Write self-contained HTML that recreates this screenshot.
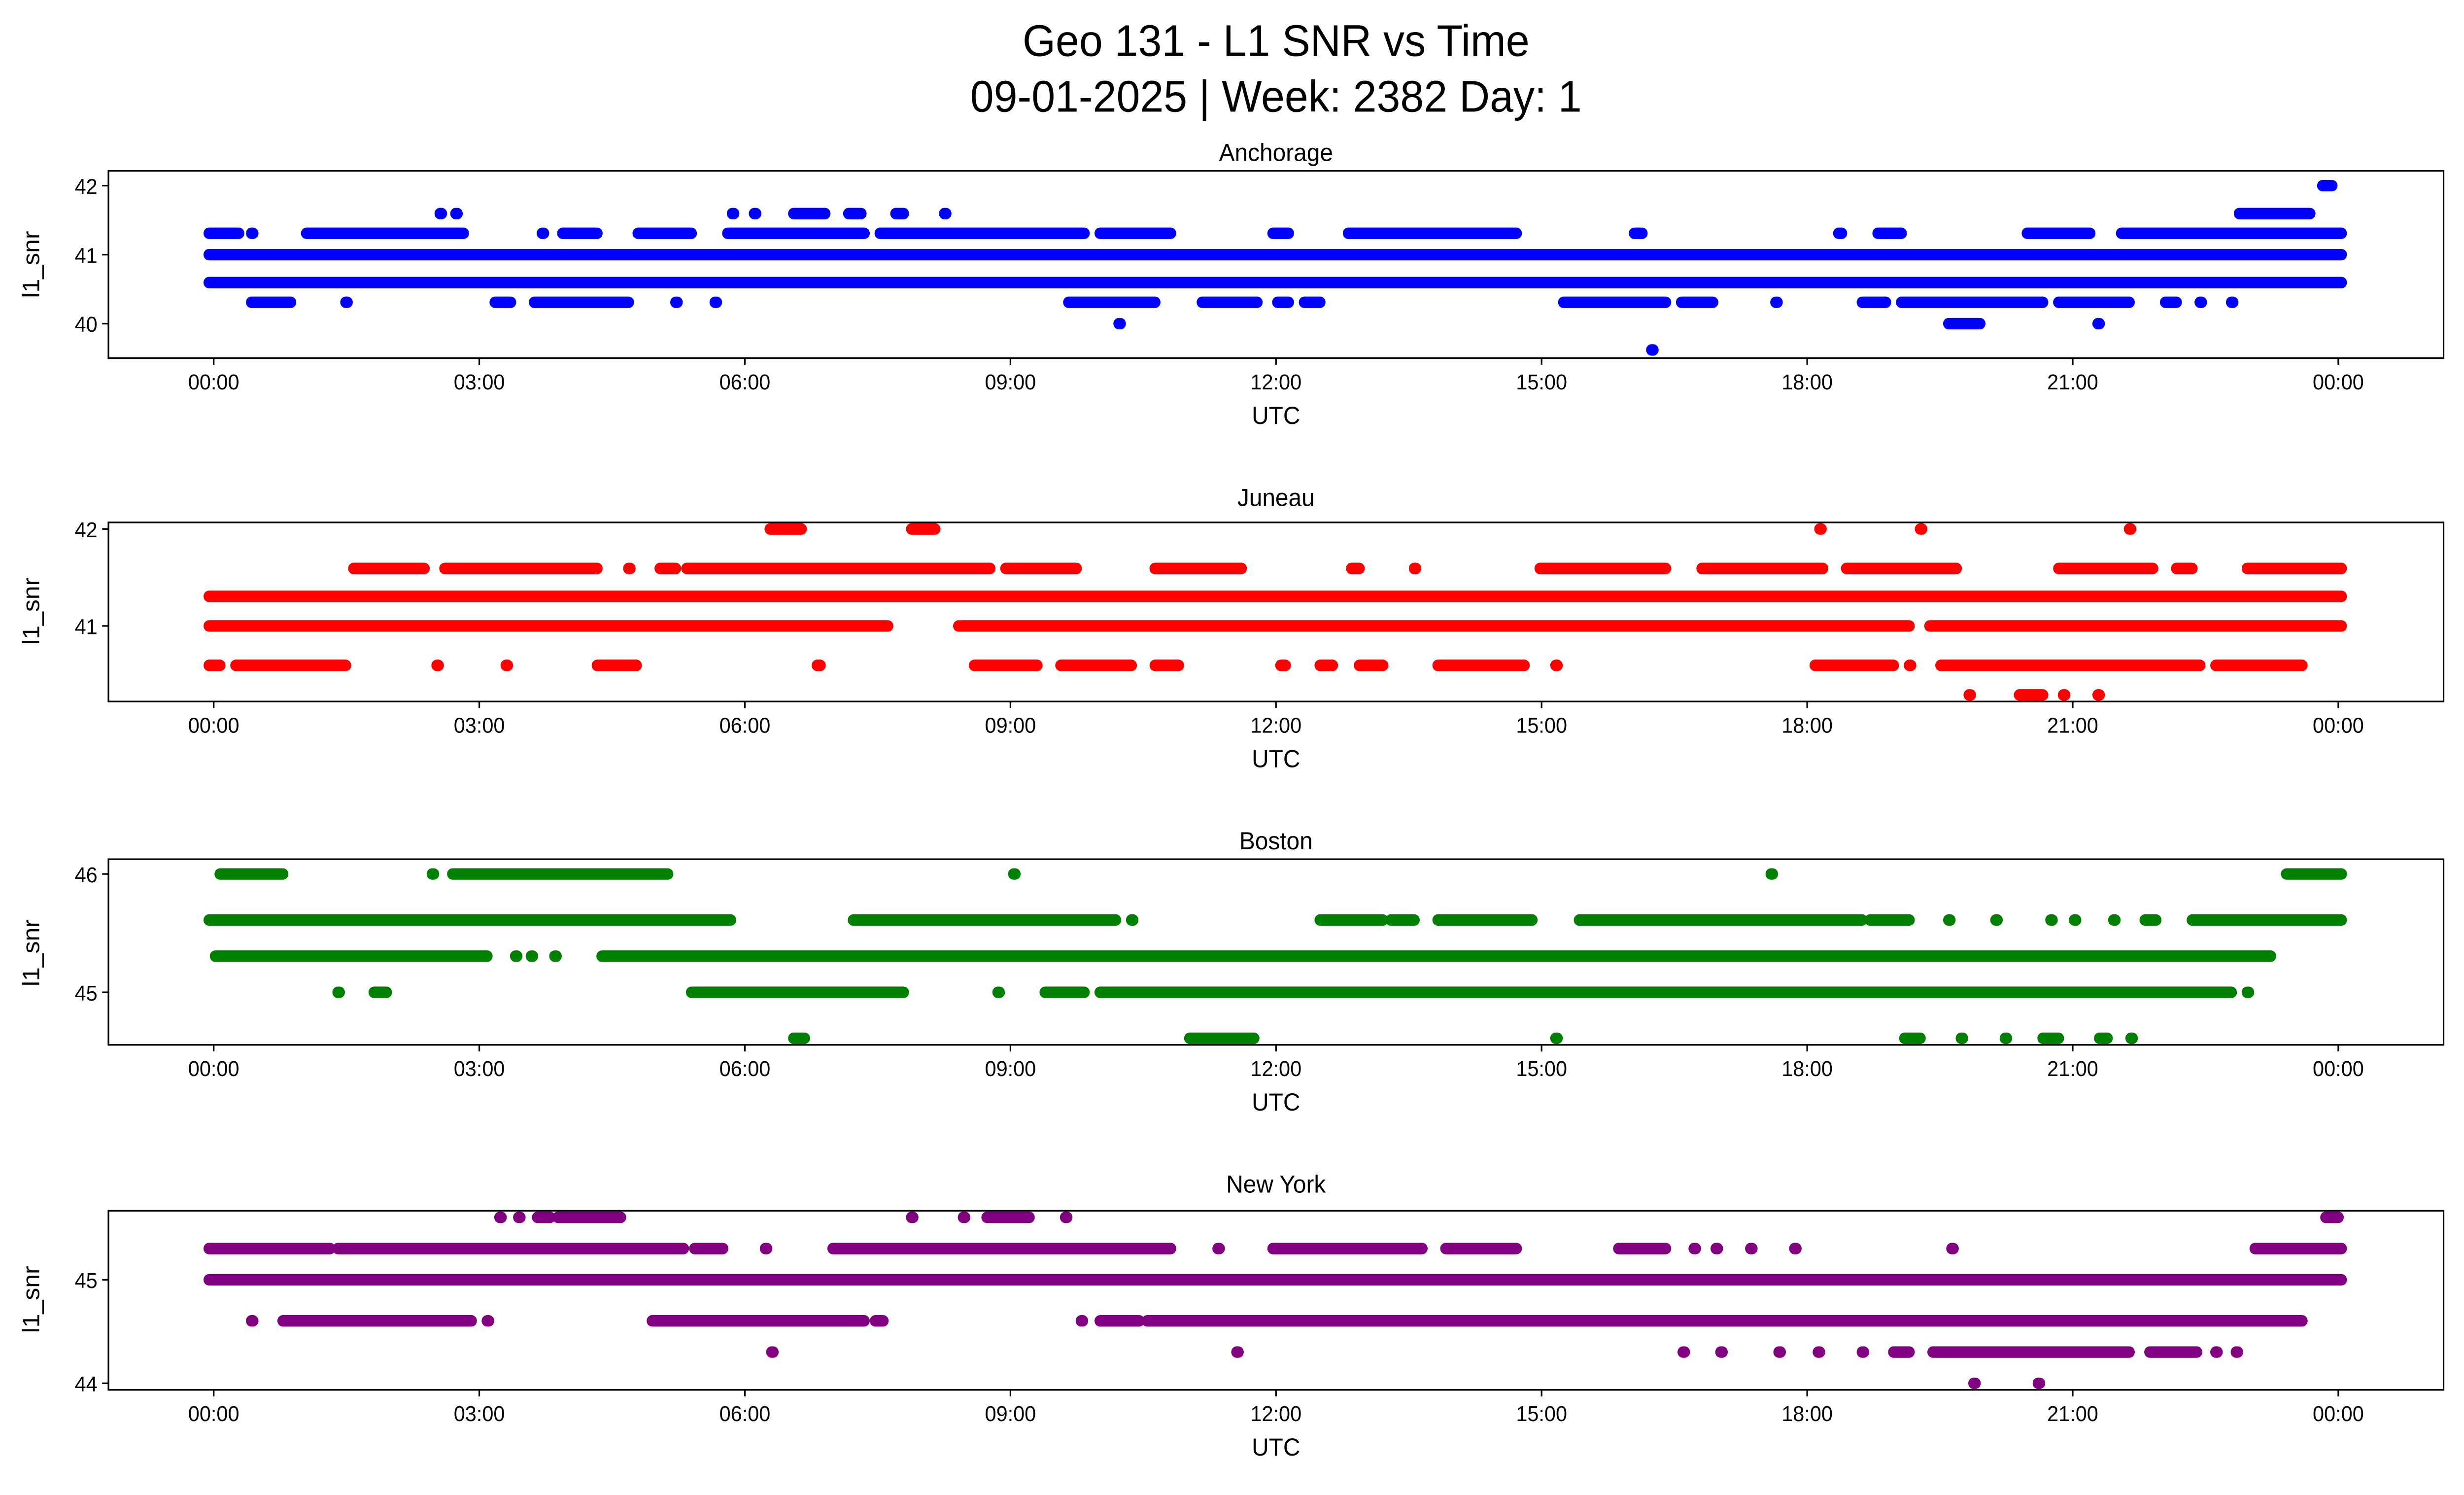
<!DOCTYPE html>
<html><head><meta charset="utf-8"><style>html,body{margin:0;padding:0;background:#fff;width:100%;height:100%;overflow:hidden}svg{display:block;position:fixed;left:0;top:0;width:100vw;height:100vh}</style></head><body>
<svg xmlns="http://www.w3.org/2000/svg" viewBox="0 0 1568 910" preserveAspectRatio="none" font-family="'Liberation Sans','DejaVu Sans',sans-serif">
<rect width="1568" height="910" fill="#fff"/>
<text x="812" y="34" font-size="27" text-anchor="middle">Geo 131 - L1 SNR vs Time</text>
<text x="812" y="68" font-size="27" text-anchor="middle">09-01-2025 | Week: 2382 Day: 1</text>
<defs>
<g id="xt" font-size="13" text-anchor="middle">
<g stroke="#000"><line x1="136" x2="136" y1="0" y2="4"/><line x1="305" x2="305" y1="0" y2="4"/><line x1="474" x2="474" y1="0" y2="4"/><line x1="643" x2="643" y1="0" y2="4"/><line x1="812" x2="812" y1="0" y2="4"/><line x1="981" x2="981" y1="0" y2="4"/><line x1="1150" x2="1150" y1="0" y2="4"/><line x1="1319" x2="1319" y1="0" y2="4"/><line x1="1488" x2="1488" y1="0" y2="4"/></g>
<text x="136" y="19">00:00</text><text x="305" y="19">03:00</text><text x="474" y="19">06:00</text><text x="643" y="19">09:00</text><text x="812" y="19">12:00</text><text x="981" y="19">15:00</text><text x="1150" y="19">18:00</text><text x="1319" y="19">21:00</text><text x="1488" y="19">00:00</text>
<text x="812" y="40" font-size="15">UTC</text>
</g>
</defs>
<g stroke-linecap="round" stroke-width="7">
<g stroke="#0000ff">
<line x1="133" x2="1490" y1="155" y2="155"/>
<line x1="133" x2="1490" y1="172" y2="172"/>
<path d="M133 142H152M160 142H161M195 142H295M345 142H346M358 142H380M406 142H440M463 142H550M560 142H690M700 142H745M810 142H820M858 142H965M1040 142H1045M1290 142H1330M1350 142H1490M1170 142H1172M1195 142H1210"/>
<path d="M160 184H185M220 184H221M315 184H325M340 184H400M430 184H431M455 184H456M680 184H735M765 184H800M813 184H820M830 184H840M995 184H1060M1070 184H1090M1130 184H1131M1185 184H1200M1210 184H1300M1310 184H1355M1378 184H1385M1400 184H1401M1420 184H1421"/>
<path d="M280 130H281M290 130H291M466 130H467M480 130H481M505 130H525M540 130H548M570 130H575M601 130H602M1425 130H1470"/>
<path d="M712 197H713M1240 197H1260M1335 197H1336M1051 213H1052M1478 113H1484"/>
</g>
<g stroke="#ff0000">
<line x1="133" x2="1490" y1="363" y2="363"/>
<path d="M133 381H565M610 381H1215M1228 381H1490"/>
<path d="M225 346H270M283 346H380M400 346H401M420 346H430M437 346H630M640 346H685M735 346H790M860 346H865M900 346H901M980 346H1060M1083 346H1160M1175 346H1245M1310 346H1370M1385 346H1395M1430 346H1490"/>
<path d="M133 405H140M150 405H220M278 405H279M322 405H323M380 405H405M520 405H522M620 405H660M675 405H720M735 405H750M815 405H818M840 405H848M865 405H880M915 405H970M990 405H991M1155 405H1205M1215 405H1216M1235 405H1400M1410 405H1465"/>
<path d="M1253 423H1254M1285 423H1300M1313 423H1314M1335 423H1336M490 322H510M580 322H595M1158 322H1159M1222 322H1223M1355 322H1356"/>
</g>
<g stroke="#008000">
<path d="M133 560H465M543 560H710M720 560H721M840 560H880M885 560H900M915 560H975M1005 560H1185M1190 560H1215M1240 560H1241M1270 560H1271M1305 560H1306M1320 560H1321M1345 560H1346M1365 560H1372M1395 560H1490"/>
<path d="M137 582H310M328 582H329M338 582H339M353 582H354M383 582H1445"/>
<path d="M440 604H575M635 604H636M665 604H690M700 604H1420M1430 604H1431M215 604H216M238 604H246"/>
<path d="M140 532H180M275 532H276M288 532H425M645 532H646M1127 532H1128M1455 532H1490"/>
<path d="M505 632H512M757 632H798M990 632H991M1212 632H1222M1248 632H1249M1276 632H1277M1300 632H1310M1336 632H1341M1356 632H1357"/>
</g>
<g stroke="#800080">
<line x1="133" x2="1490" y1="779" y2="779"/>
<path d="M133 760H210M215 760H435M442 760H460M487 760H488M530 760H745M775 760H776M810 760H905M920 760H965M1030 760H1060M1078 760H1079M1092 760H1093M1114 760H1115M1142 760H1143M1242 760H1243M1435 760H1490"/>
<path d="M160 804H161M180 804H300M310 804H311M415 804H550M557 804H562M688 804H689M700 804H725M730 804H1465"/>
<path d="M491 823H492M787 823H788M1071 823H1072M1095 823H1096M1132 823H1133M1157 823H1158M1185 823H1186M1205 823H1215M1230 823H1355M1368 823H1398M1410 823H1411M1423 823H1424"/>
<path d="M318 741H319M330 741H331M342 741H350M355 741H395M580 741H581M613 741H614M628 741H655M678 741H679M1480 741H1488M1256 842H1257M1297 842H1298"/>
</g>
</g>
<g fill="none" stroke="#000" stroke-width="1">
<rect x="69" y="104" width="1486" height="114"/>
<rect x="69" y="318" width="1486" height="109"/>
<rect x="69" y="523" width="1486" height="113"/>
<rect x="69" y="737" width="1486" height="109"/>
</g>
<g font-size="15" text-anchor="middle">
<text x="812" y="98">Anchorage</text>
<text x="812" y="308">Juneau</text>
<text x="812" y="517">Boston</text>
<text x="812" y="726">New York</text>
</g>
<use href="#xt" y="218"/><use href="#xt" y="427"/><use href="#xt" y="636"/><use href="#xt" y="846"/>
<g font-size="13" text-anchor="end">
<g stroke="#000"><path d="M65 113H69M65 155H69M65 197H69M65 322H69M65 381H69M65 532H69M65 604H69M65 779H69M65 842H69"/></g>
<text x="62" y="118">42</text><text x="62" y="160">41</text><text x="62" y="202">40</text>
<text x="62" y="327">42</text><text x="62" y="386">41</text>
<text x="62" y="537">46</text><text x="62" y="609">45</text>
<text x="62" y="784">45</text><text x="62" y="847">44</text>
</g>
<g font-size="15" text-anchor="middle">
<text transform="translate(25,161) rotate(-90)">l1_snr</text>
<text transform="translate(25,372) rotate(-90)">l1_snr</text>
<text transform="translate(25,580) rotate(-90)">l1_snr</text>
<text transform="translate(25,791) rotate(-90)">l1_snr</text>
</g>
</svg>
</body></html>
